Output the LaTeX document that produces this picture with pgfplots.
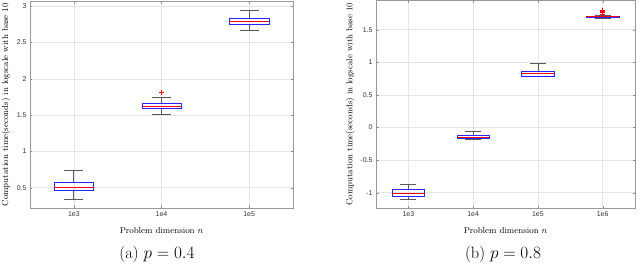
\documentclass[border=0pt]{standalone}
\usepackage{pgfplots}
\pgfplotsset{compat=1.18}
\usepgfplotslibrary{statistics}
\usepackage{fontspec}
\newfontfamily\ticksf{Liberation Sans}
\newcommand\labfont{\fontsize{8.7}{10}\selectfont}
\pgfplotsset{
  mystyle/.style={
    scale only axis,
    anchor=south west,
    axis line style={black!40},
    tick style={black!45},
    major tick length=2.5bp,
    tick align=inside,
    grid=major,
    major grid style={black!10},
    ticklabel style={font=\ticksf\fontsize{7}{8}\selectfont, text=black!80},
    boxplot/draw direction=y,
    boxplot/every box/.style={draw=blue!85, line width=0.5pt},
    boxplot/every median/.style={draw=red, line width=0.5pt},
    boxplot/every whisker/.style={draw=black!65, line width=0.7pt},
  },
}
\begin{document}
\begin{tikzpicture}
\path[use as bounding box] (0,0) rectangle (640bp,267bp);
% ---------- (a) ----------
\begin{axis}[mystyle,
  at={(30bp,59bp)}, width=263bp, height=206.5bp,
  xmin=0.5, xmax=3.5, ymin=0.22, ymax=3.065,
  xtick={1,2,3}, xticklabels={1e3,1e4,1e5},
  ytick={0.5,1,1.5,2,2.5,3}, yticklabels={0.5,1,1.5,2,2.5,3},
  xlabel={\labfont Problem dimension $n$},
  ylabel={\labfont Computation time(seconds) in logscale with base 10},
  every axis x label/.style={at={(rel axis cs:0.5,-0.107)}, anchor=center},
  every axis y label/.style={at={(rel axis cs:-0.091,0.5)}, rotate=90, anchor=center},
]
\addplot[boxplot prepared={draw position=1, lower whisker=0.345, lower quartile=0.459, median=0.50, upper quartile=0.578, upper whisker=0.743, box extend=0.45, whisker extend=0.22}] coordinates {};
\addplot[boxplot prepared={draw position=2, lower whisker=1.508, lower quartile=1.59, median=1.618, upper quartile=1.659, upper whisker=1.742, box extend=0.45, whisker extend=0.22}] coordinates {};
\addplot[boxplot prepared={draw position=3, lower whisker=2.67, lower quartile=2.75, median=2.786, upper quartile=2.84, upper whisker=2.94, box extend=0.45, whisker extend=0.22}] coordinates {};
\addplot[only marks, mark=+, red, mark size=2.5bp, thick] coordinates {(2,1.81)};
\end{axis}
% ---------- (b) ----------
\begin{axis}[mystyle,
  at={(376bp,58.7bp)}, width=259bp, height=208bp,
  xmin=0.5, xmax=4.5, ymin=-1.24, ymax=1.95,
  xtick={1,2,3,4}, xticklabels={1e3,1e4,1e5,1e6},
  ytick={-1,-0.5,0,0.5,1,1.5}, yticklabels={-1,-0.5,0,0.5,1,1.5},
  xlabel={\labfont Problem dimension $n$},
  ylabel={\labfont Computation time(seconds) in logscale with base 10},
  every axis x label/.style={at={(rel axis cs:0.5,-0.106)}, anchor=center},
  every axis y label/.style={at={(rel axis cs:-0.100,0.5)}, rotate=90, anchor=center},
]
\addplot[boxplot prepared={draw position=1, lower whisker=-1.097, lower quartile=-1.06, median=-1.01, upper quartile=-0.948, upper whisker=-0.872, box extend=0.5, whisker extend=0.25}] coordinates {};
\addplot[boxplot prepared={draw position=2, lower whisker=-0.19, lower quartile=-0.164, median=-0.144, upper quartile=-0.113, upper whisker=-0.067, box extend=0.5, whisker extend=0.25}] coordinates {};
\addplot[boxplot prepared={draw position=3, lower whisker=0.78, lower quartile=0.786, median=0.827, upper quartile=0.867, upper whisker=0.98, box extend=0.5, whisker extend=0.25}] coordinates {};
\addplot[boxplot prepared={draw position=4, lower whisker=1.668, lower quartile=1.695, median=1.702, upper quartile=1.71, upper whisker=1.712, box extend=0.5, whisker extend=0.25}] coordinates {};
\addplot[only marks, mark=+, red, mark size=2.5bp, thick] coordinates {(4,1.74) (4,1.76) (4,1.78) (4,1.80)};
\end{axis}
\node[font=\fontsize{16.5}{18}\selectfont] at (157bp,13bp) {(a) $p = 0.4$};
\node[font=\fontsize{16.5}{18}\selectfont] at (503bp,13bp) {(b) $p = 0.8$};
\end{tikzpicture}
\end{document}
